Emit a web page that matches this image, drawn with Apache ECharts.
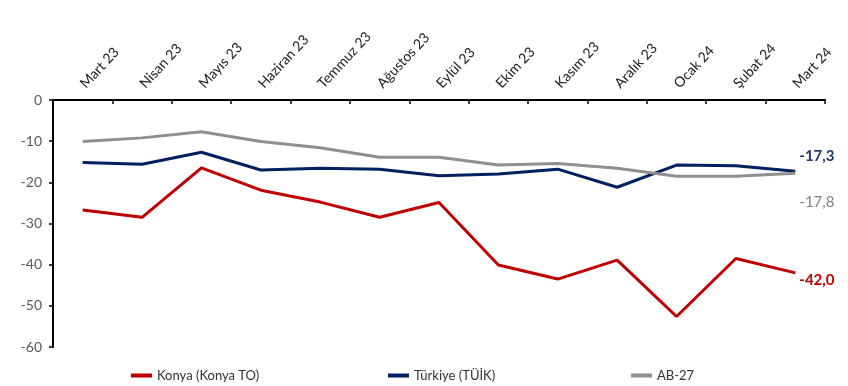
<!DOCTYPE html>
<html><head><meta charset="utf-8">
<script src="https://cdn.jsdelivr.net/npm/echarts@6/dist/echarts.min.js"></script>
<style>html,body{margin:0;padding:0;background:#fff}#c{width:848px;height:386px}</style>
</head><body><div id="c"></div>
<script>
const categories = ['Mart 23','Nisan 23','Mayıs 23','Haziran 23','Temmuz 23','Ağustos 23','Eylül 23','Ekim 23','Kasım 23','Aralık 23','Ocak 24','Şubat 24','Mart 24'];
const konya = [-26.7,-28.5,-16.5,-21.9,-24.8,-28.5,-24.9,-40.1,-43.5,-38.9,-52.6,-38.5,-42.0];
const turkiye = [-15.2,-15.6,-12.7,-17.0,-16.6,-16.8,-18.4,-18.0,-16.8,-21.2,-15.8,-16.0,-17.3];
const ab27 = [-10.1,-9.2,-7.7,-10.1,-11.6,-13.9,-13.9,-15.8,-15.4,-16.6,-18.5,-18.5,-17.8];
const seriesNames = ['Konya (Konya TO)','Türkiye (TÜİK)','AB-27'];
const yTicks = {min:-60, max:0, interval:10};

const FONT = "Lato,'Liberation Sans',sans-serif";
const chart = echarts.init(document.getElementById('c'), null, {renderer:'canvas'});
function fmt(v){ return v.toFixed(1).replace('.', ','); }
function mk(name, data, color, lblColor, bold, offset){
  return {
    name, type:'line', data, symbol:'none', smooth:false,
    lineStyle:{color, width:3}, itemStyle:{color},
    endLabel:{show:true, formatter:p=>fmt(p.value), color:lblColor, fontFamily:FONT,
      fontSize:15, fontWeight:bold?'bold':'normal', offset, distance:4},
    animation:false
  };
}
const legendText = {fontFamily:FONT, fontSize:13, color:'#333'};
chart.setOption({
  animation:false,
  textStyle:{fontFamily:FONT},
  grid:{left:53, right:23, top:100, bottom:39, containLabel:false},
  legend:[
    {data:[seriesNames[0]], left:126, top:364, icon:'rect', itemWidth:21, itemHeight:4, itemGap:2, textStyle:legendText},
    {data:[seriesNames[1]], left:383, top:364, icon:'rect', itemWidth:21, itemHeight:4, itemGap:2, textStyle:legendText},
    {data:[seriesNames[2]], left:626, top:364, icon:'rect', itemWidth:21, itemHeight:4, itemGap:2, textStyle:legendText}
  ],
  xAxis:{type:'category', data:categories, position:'top', boundaryGap:true,
    axisLine:{lineStyle:{color:'#000', width:2}},
    axisTick:{show:true, inside:true, length:4, lineStyle:{color:'#000', width:1.5}},
    axisLabel:{rotate:47, align:'left', verticalAlign:'middle', fontSize:14, color:'#222', fontFamily:FONT, margin:14, interval:0},
    splitLine:{show:false}},
  yAxis:{type:'value', min:yTicks.min, max:yTicks.max, interval:yTicks.interval,
    axisLine:{show:true, lineStyle:{color:'#000', width:2}},
    axisTick:{show:true, length:4, lineStyle:{color:'#000', width:1.5}},
    axisLabel:{fontSize:14, color:'#595959', fontFamily:FONT, margin:11},
    splitLine:{show:false}},
  series:[
    mk(seriesNames[0], konya, '#c00000', '#c00000', true, [0,7]),
    mk(seriesNames[1], turkiye, '#002060', '#1f3864', true, [0,-15]),
    mk(seriesNames[2], ab27, '#8f8f8f', '#7f7f7f', false, [0,29])
  ]
});
</script></body></html>
